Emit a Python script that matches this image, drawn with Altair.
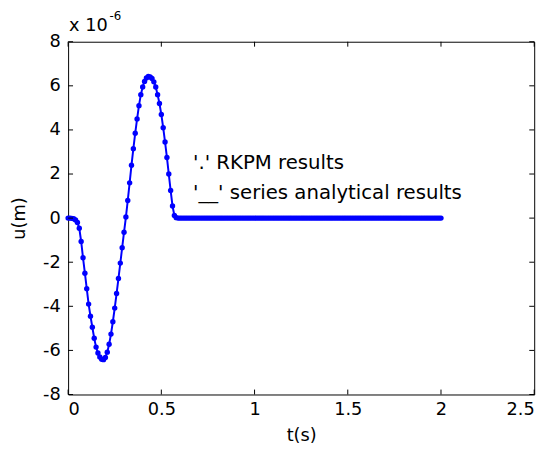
import altair as alt
import pandas as pd

# displacement u (x 1e-6 m) sampled every 0.01 s from t = 0 to 0.59 s
u_head = [0, 0, -0.01, -0.03, -0.08, -0.2, -0.46, -1.06, -1.8, -2.5,
          -3.2, -3.9, -4.45, -4.95, -5.45, -5.85, -6.12, -6.3, -6.4, -6.42,
          -6.32, -6.08, -5.72, -5.26, -4.7, -4.08, -3.42, -2.74, -2.04, -1.34,
          -0.64, 0.05, 0.8, 1.6, 2.4, 3.15, 3.85, 4.5, 5.1, 5.6,
          5.95, 6.2, 6.36, 6.42, 6.4, 6.33, 6.18, 5.95, 5.6, 5.2,
          4.7, 4.1, 3.45, 2.75, 2.0, 1.25, 0.55, 0.12, 0.02, 0]
# flat (zero) response from t = 0.60 to 2.00 s
u_tail = [0.0] * 141
t = [round(0.01 * i, 2) for i in range(201)]
u = u_head + u_tail

x_ticks = [0, 0.5, 1, 1.5, 2, 2.5]
y_ticks = [-8, -6, -4, -2, 0, 2, 4, 6, 8]

W, H = 473, 358
FONT = "DejaVu Sans"
BLUE = "#0000ff"

df = pd.DataFrame({"t": t, "u": u})
xt = pd.DataFrame({"v": x_ticks})
yt = pd.DataFrame({"v": y_ticks})

xs = alt.Scale(domain=[0, 2.5], nice=False, zero=False)
ys = alt.Scale(domain=[-8, 8], nice=False, zero=False)

line = alt.Chart(df).mark_line(color=BLUE, strokeWidth=2).encode(
    x=alt.X("t:Q", scale=xs,
            axis=alt.Axis(values=x_ticks, title="t(s)", labelExpr="datum.value + ''",
                          labelPadding=6, titleY=42, titleBaseline="middle")),
    y=alt.Y("u:Q", scale=ys,
            axis=alt.Axis(values=y_ticks, title="u(m)", labelExpr="datum.value + ''",
                          labelPadding=8, titleX=-49, titleBaseline="middle")),
)
pts = alt.Chart(df).mark_circle(color=BLUE, size=30, opacity=1).encode(
    x=alt.X("t:Q", scale=xs), y=alt.Y("u:Q", scale=ys))

tick_len = 5
xb = alt.Chart(xt).mark_rule(color="black", strokeWidth=1).encode(
    x=alt.X("v:Q", scale=xs), y=alt.value(H), y2=alt.value(H - tick_len))
xtop = alt.Chart(xt).mark_rule(color="black", strokeWidth=1).encode(
    x=alt.X("v:Q", scale=xs), y=alt.value(0), y2=alt.value(tick_len))
yl = alt.Chart(yt).mark_rule(color="black", strokeWidth=1).encode(
    y=alt.Y("v:Q", scale=ys), x=alt.value(0), x2=alt.value(tick_len))
yr = alt.Chart(yt).mark_rule(color="black", strokeWidth=1).encode(
    y=alt.Y("v:Q", scale=ys), x=alt.value(W), x2=alt.value(W - tick_len))

txt1 = alt.Chart(df.head(1)).mark_text(
    text="'.' RKPM results", align="left", baseline="alphabetic",
    font=FONT, fontSize=20, color="black").encode(
    x=alt.datum(0.67, scale=xs), y=alt.datum(2.23, scale=ys))
txt2 = alt.Chart(df.head(1)).mark_text(
    text="'__' series analytical results", align="left", baseline="alphabetic",
    font=FONT, fontSize=20, color="black").encode(
    x=alt.datum(0.67, scale=xs), y=alt.datum(0.85, scale=ys))

exp1 = alt.Chart(df.head(1)).mark_text(
    text="x 10", align="left", baseline="alphabetic",
    font=FONT, fontSize=18, color="black").encode(
    x=alt.value(1), y=alt.value(-11))
exp2 = alt.Chart(df.head(1)).mark_text(
    text="-6", align="left", baseline="alphabetic",
    font=FONT, fontSize=12, color="black").encode(
    x=alt.value(42), y=alt.value(-22))

chart = alt.layer(line, pts, xb, xtop, yl, yr, txt1, txt2, exp1, exp2).properties(
    width=W, height=H,
    autosize=alt.AutoSizeParams(type="none"),
    padding={"left": 61, "top": 31, "right": 14, "bottom": 47},
    background="white",
).configure_view(
    stroke="black", strokeWidth=1
).configure_axis(
    grid=False, domain=False, ticks=False,
    labelFont=FONT, labelFontSize=18, labelColor="black",
    titleFont=FONT, titleFontSize=18, titleFontWeight="normal", titleColor="black",
)

chart.save("out.html", embed_options={"renderer": "svg", "actions": False})
